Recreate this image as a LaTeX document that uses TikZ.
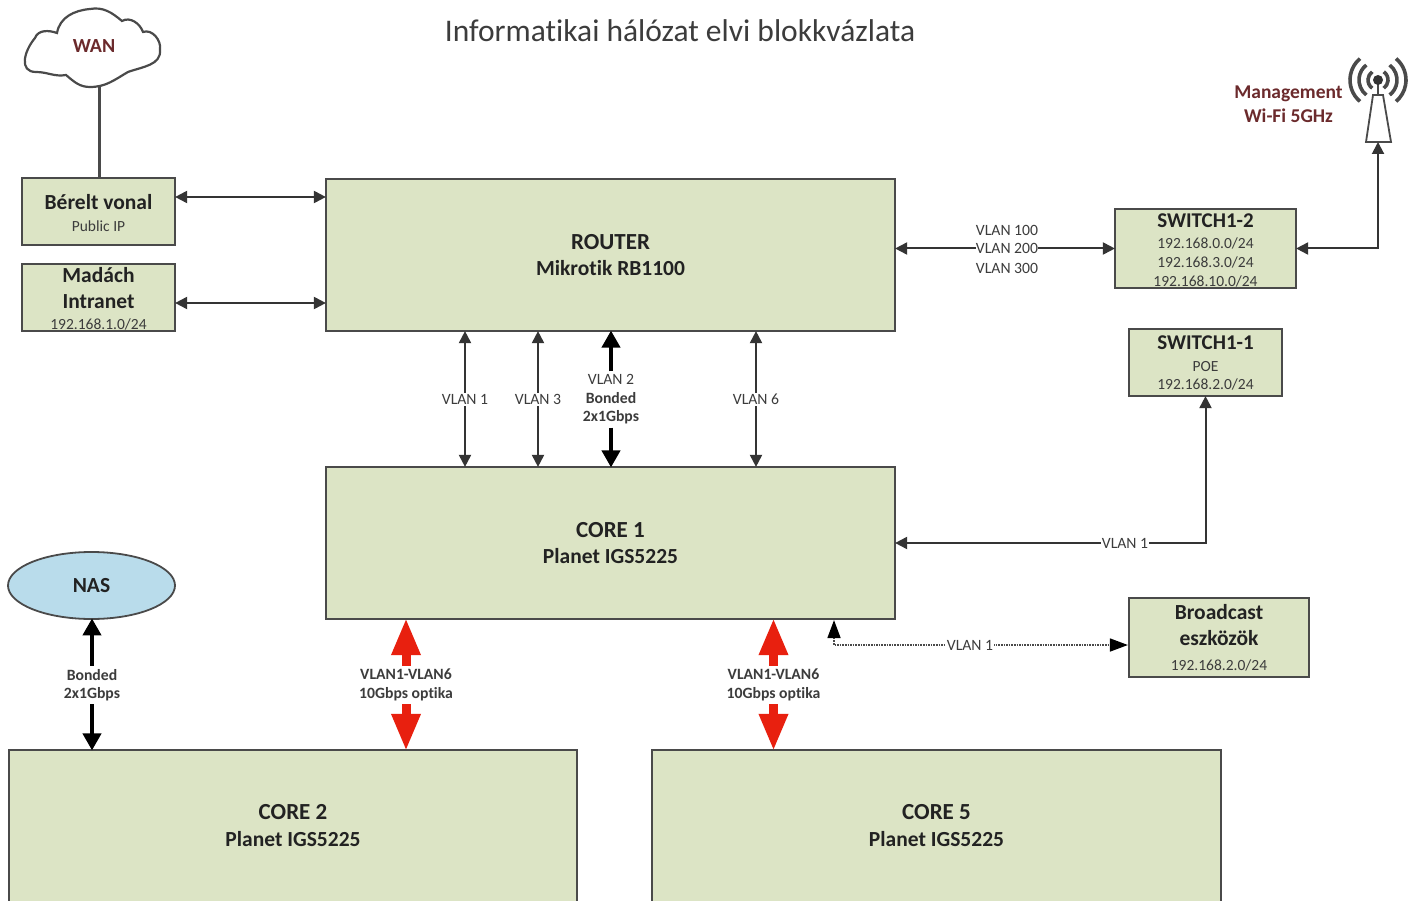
\documentclass[tikz,border=0pt]{standalone}
\usepackage{fontspec}
\setmainfont[Ligatures=NoCommon]{Carlito}
\usetikzlibrary{arrows.meta,shapes.geometric}
\definecolor{boxfill}{HTML}{DCE4C5}
\definecolor{boxline}{HTML}{4A4A4A}
\definecolor{nasfill}{HTML}{B9DCEB}
\definecolor{darkred}{HTML}{6B2A2C}
\definecolor{inktext}{HTML}{222222}
\definecolor{subtext}{HTML}{3C3C3C}
\definecolor{redarrow}{HTML}{E8200F}
\newcommand{\hdfont}{\fontsize{21.5}{26}\selectfont\bfseries\color{inktext}}
\newcommand{\bigfont}{\fontsize{23}{26}\selectfont\bfseries\color{inktext}}
\newcommand{\swfont}{\fontsize{21}{26}\selectfont\bfseries\color{inktext}}
\newcommand{\subfont}{\fontsize{15.5}{26}\selectfont\mdseries\color{subtext}}
\newcommand{\lblfont}{\fontsize{15.7}{18.5}\selectfont\color{subtext}}
\newcommand{\lblbold}{\fontsize{15.7}{18.5}\selectfont\bfseries\color{subtext}}
\tikzset{
  box/.style={draw=boxline,line width=2.2pt,fill=boxfill,inner sep=0pt,align=center,font=\hdfont},
  wide/.style={box,minimum width=569pt,minimum height=152pt},
  small/.style={box,minimum width=153pt,minimum height=67pt},
  mid/.style={box,minimum width=181pt,minimum height=79pt},
  conn/.style={draw=boxline!70!black,line width=2pt,shorten <=-1pt,shorten >=-1pt,{Triangle[length=12pt,width=12pt]}-{Triangle[length=12pt,width=12pt]}},
  heavy/.style={draw=black,line width=4pt,shorten >=-1.5pt,-{Triangle[length=17pt,width=18pt]}},
  redconn/.style={draw=redarrow,line width=9pt,shorten >=-2pt,-{Triangle[length=37pt,width=27pt]}},
  lbl/.style={fill=white,inner sep=1.5pt,align=center,font=\lblfont},
  lblb/.style={fill=white,inner sep=0pt,align=center,font=\lblbold},
}
\begin{document}
\begin{tikzpicture}[x=1pt,y=-1pt]
\useasboundingbox (0,0) rectangle (1416,901);
\fill[white] (0,0) rectangle (1416,901);

\node[inner sep=0pt,text=subtext,font=\fontsize{31.5}{35}\selectfont] (title) at (680,31) {Informatikai hálózat elvi blokkvázlata};

% WAN cloud
\draw[draw=boxline,line width=2.2pt,fill=white]
  (36,72) to[out=180,in=230,looseness=1.3] (35,38)
  to[out=70,in=160] (57,33)
  to[out=80,in=185] (90,9)
  to[out=10,in=140] (122,21)
  to[out=30,in=110] (143,32)
  to[out=20,in=80] (160,50)
  to[out=-85,in=20] (128,72)
  to[out=-150,in=0] (90,87)
  to[out=180,in=-40] (66,75)
  to[out=-170,in=0] (36,72) -- cycle;
\coordinate (cloudbottom) at (99.5,87);
\node[inner sep=0pt,text=darkred,font=\fontsize{20}{22}\selectfont\bfseries] (wan) at (94,46) {WAN};

% boxes
\node[small] (berelt) at (98.5,211.5) {\hdfont\rule{0pt}{19pt}Bérelt vonal\\[-4pt]\subfont Public IP};
\node[small] (madach) at (98.5,297.5) {\hdfont\rule{0pt}{17pt}Madách\\\hdfont Intranet\\[-5pt]\subfont 192.168.1.0/24};
\node[wide] (router) at (610.5,255) {\bigfont ROUTER\\\hdfont Mikrotik RB1100};
\node[wide] (core1) at (610.5,543) {\bigfont CORE 1\\\hdfont Planet IGS5225};
\node[mid] (sw12) at (1205.5,248.5) {\swfont\rule{0pt}{17pt}SWITCH1-2\\[-5pt]\subfont 192.168.0.0/24\\[-7pt]\subfont 192.168.3.0/24\\[-7pt]\subfont 192.168.10.0/24};
\node[small] (sw11) at (1205.5,362.5) {\swfont SWITCH1-1\\[-4pt]\subfont POE\\[-8pt]\subfont 192.168.2.0/24};
\node[mid,minimum width=180pt] (broadcast) at (1219,637.5) {\hdfont Broadcast\\\hdfont eszközök\\[-1pt]\subfont 192.168.2.0/24};
\node[wide,minimum width=568pt,minimum height=154pt] (core2) at (293,827) {\bigfont CORE 2\\[1pt]\hdfont Planet IGS5225\rule[-4pt]{0pt}{0pt}};
\node[wide,minimum height=154pt] (core5) at (936.5,827) {\bigfont CORE 5\\[1pt]\hdfont Planet IGS5225\rule[-4pt]{0pt}{0pt}};
\node[draw=boxline,line width=1.8pt,fill=nasfill,ellipse,minimum width=167pt,minimum height=67pt,inner sep=0pt,font=\hdfont] (nas) at (91.5,585.5) {NAS};

% antenna
\coordinate (antc) at (1378,80);
\coordinate (antbase) at (1378,143);
\draw[draw=boxline,line width=1.8pt,fill=white] (1373,95) -- (1383,95) -- (1391,142) -- (1366,142) -- cycle;
\draw[draw=boxline,line width=2pt] (antc) -- (1378,95);
\fill[black!80] (antc) circle (5pt);
\foreach \r/\a in {10/55,19/52,28/50}{
  \draw[boxline,line width=3.6pt] (antc) ++(-\a:\r) arc (-\a:\a:\r);
  \draw[boxline,line width=3.6pt] (antc) ++(180-\a:\r) arc (180-\a:180+\a:\r);
}
\node[inner sep=0pt,align=center,text=darkred,font=\fontsize{19.5}{23.5}\selectfont\bfseries] (mgmt) at (1288.5,104) {Management\\Wi-Fi 5GHz};

% WAN link
\draw[draw=boxline,line width=2.4pt] (cloudbottom) -- (berelt.north -| cloudbottom);

% left links
\draw[conn] (berelt.east |- 0,197) -- (router.west |- 0,197);
\draw[conn] (madach.east |- 0,303) -- (router.west |- 0,303);

% router - switch1-2
\draw[conn] (router.east |- sw12.west) -- (sw12.west);
\node[lbl,fill=none,inner sep=0pt] (v100) at (1007,230) {VLAN 100};
\node[lbl,inner sep=0pt] (v200) at (1007,248.5) {VLAN 200};
\node[lbl,fill=none,inner sep=0pt] (v300) at (1007,268) {VLAN 300};

% switch1-2 - antenna
\draw[conn] (sw12.east) -| (antbase);

% router - core 1
\coordinate (xa) at (465,399.5);
\coordinate (xb) at (538,399.5);
\coordinate (xc) at (611,399.5);
\coordinate (xd) at (756,399.5);
\draw[conn] (router.south -| xa) -- (core1.north -| xa);
\draw[conn] (router.south -| xb) -- (core1.north -| xb);
\draw[conn] (router.south -| xd) -- (core1.north -| xd);
\node[lbl] (v1) at (xa) {VLAN 1};
\node[lbl] (v3) at (xb) {VLAN 3};
\node[lbl] (v6) at (xd) {VLAN 6};
\node[lbl,inner sep=0pt,minimum height=56pt] (v2) at (xc) {\lblfont VLAN 2\\\lblbold Bonded\\\lblbold 2x1Gbps};
\draw[heavy] (v2.north) -- (router.south -| v2);
\draw[heavy] (v2.south) -- (core1.north -| v2);

% core 1 - switch1-1
\draw[conn] (sw11.south) |- (core1.east);
\node[lbl,inner sep=1pt] (v1b) at (1125,543.5) {VLAN 1};

% core 1 - broadcast
\coordinate (dotc) at (834,645);
\draw[draw=boxline,line width=1.6pt,densely dotted,
      {Triangle[length=18pt,width=13pt,color=black]}-{Triangle[length=18pt,width=13pt,color=black]}]
  (core1.south -| dotc) -- (dotc) -- (broadcast.west |- dotc);
\node[lbl,inner sep=1pt] (v1c) at (970,645.5) {VLAN 1};

% NAS - core 2
\node[lblb,minimum height=38pt] (bond) at (92,685) {Bonded\\2x1Gbps};
\draw[heavy] (bond.north) -- (nas.south -| bond);
\draw[heavy] (bond.south) -- (core2.north -| bond);

% core 1 - core 2 / core 5
\node[lblb,minimum height=38pt] (opt2) at (406,685) {VLAN1-VLAN6\\10Gbps optika};
\draw[redconn] (opt2.north) -- (core1.south -| opt2);
\draw[redconn] (opt2.south) -- (core2.north -| opt2);
\node[lblb,minimum height=38pt] (opt5) at (773.5,685) {VLAN1-VLAN6\\10Gbps optika};
\draw[redconn] (opt5.north) -- (core1.south -| opt5);
\draw[redconn] (opt5.south) -- (core5.north -| opt5);
\end{tikzpicture}
\end{document}
